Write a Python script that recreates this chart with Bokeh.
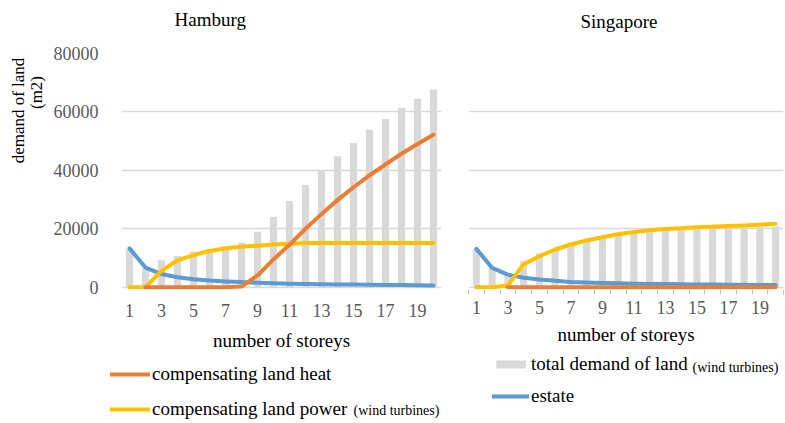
import math
from bokeh.plotting import figure
from bokeh.layouts import row, column
from bokeh.models import (Range1d, FixedTicker, Legend, LegendItem,
                          Label, ColumnDataSource)
from bokeh.embed import file_html
from bokeh.resources import INLINE

NaN = float("nan")

# ---------------- data ----------------
storeys = [1, 2, 3, 4, 5, 6, 7, 8, 9, 10, 11, 12, 13, 14, 15, 16, 17, 18, 19, 20]
x_tick_labels = [1, 3, 5, 7, 9, 11, 13, 15, 17, 19]
y_ticks = [0, 20000, 40000, 60000, 80000]

# Hamburg
hh_total = [13000, 6500, 9200, 10700, 12100, 13000, 13900, 15200, 19000, 24100,
            29500, 35000, 39900, 44800, 49400, 53900, 57600, 61300, 64500, 67700]
hh_heat = [NaN, 0, 0, 0, 0, 0, 0, 200, 4000, 9500,
           14500, 20000, 25000, 29800, 34200, 38300, 42000, 45700, 49000, 52200]
hh_power = [0, 0, 5600, 9200, 11000, 12400, 13300, 13800, 14200, 14600,
            14900, 15100, 15100, 15100, 15100, 15100, 15100, 15100, 15100, 15100]
hh_estate = [13300, 6700, 4500, 3400, 2700, 2250, 1950, 1750, 1500, 1300,
             1200, 1100, 1000, 950, 880, 820, 770, 720, 680, 600]

# Singapore
sg_total = [13000, 6600, 4700, 8900, 11500, 13100, 14900, 16100, 17300, 18100,
            18900, 19300, 19600, 19800, 19900, 20100, 20300, 20500, 20600, 20800]
sg_heat = [NaN, NaN, 0, 0, 0, 0, 0, 0, 0, 0,
           0, 0, 0, 0, 0, 0, 0, 0, 0, 0]
sg_power = [0, 0, 600, 7800, 10600, 12900, 14600, 16000, 17100, 18100,
            18900, 19500, 19900, 20200, 20500, 20700, 20900, 21100, 21400, 21700]
sg_estate = [13100, 6600, 4300, 3200, 2600, 2200, 1800, 1600, 1450, 1300,
             1200, 1100, 1050, 1000, 950, 900, 850, 800, 750, 700]

# ---------------- style ----------------
FONT = "Liberation Serif"
C_BAR = "#D9D9D9"
C_HEAT = "#ED7D31"
C_POWER = "#FFC000"
C_ESTATE = "#5B9BD5"
C_GRID = "#D9D9D9"
C_TICK = "#595959"
TOP_H = 38
MAIN_H = 315
LEG_H = 70
YLAB_W = 50
LINE = dict(line_width=4, line_cap="round", line_join="round")


def blank_fig(width, height):
    f = figure(width=width, height=height, output_backend="svg",
               toolbar_location=None, x_range=Range1d(-2, -1),
               y_range=Range1d(-2, -1), min_border=0)
    f.axis.visible = False
    f.grid.visible = False
    f.outline_line_color = None
    return f


def text_label(fig, txt, sx, sy, size, baseline="middle", align="left",
               angle=0):
    fig.add_layout(Label(x=sx, y=sy, x_units="screen", y_units="screen",
                         text=txt, text_font=FONT, text_font_size=size,
                         text_color="#000000", text_align=align,
                         text_baseline=baseline, angle=angle))


def make_panel(width, border_left, border_right):
    p = figure(width=width, height=MAIN_H, output_backend="svg",
               toolbar_location=None,
               x_range=Range1d(0.5, 20.5), y_range=Range1d(-800, 80000),
               min_border_left=border_left, min_border_right=border_right,
               min_border_top=53 - TOP_H,
               min_border_bottom=MAIN_H - (53 - TOP_H) - 238)
    p.outline_line_color = None
    p.xgrid.grid_line_color = None
    p.ygrid.grid_line_color = C_GRID
    p.ygrid.grid_line_width = 1.5
    p.yaxis.ticker = FixedTicker(ticks=y_ticks)

    p.xaxis.ticker = FixedTicker(ticks=x_tick_labels,
                                 minor_ticks=[i + 0.5 for i in range(21)])
    p.xaxis.axis_line_color = None
    p.xaxis.major_tick_line_color = None
    p.xaxis.minor_tick_line_color = None
    p.xaxis.major_label_text_font = FONT
    p.xaxis.major_label_text_font_size = "18px"
    p.xaxis.major_label_text_color = C_TICK
    p.xaxis.axis_label = "number of storeys"
    p.xaxis.axis_label_text_font = FONT
    p.xaxis.axis_label_text_font_size = "19px"
    p.xaxis.axis_label_text_font_style = "normal"
    p.xaxis.axis_label_text_color = "#000000"
    return p


def draw_series(p, src):
    rb = p.vbar(x="x", top="total", width=0.45, source=src,
                fill_color=C_BAR, line_color=None)
    re = p.line("x", "estate", source=src, line_color=C_ESTATE, **LINE)
    rp = p.line("x", "power", source=src, line_color=C_POWER, **LINE)
    rh = p.line("x", "heat", source=src, line_color=C_HEAT, **LINE)
    return rb, re, rp, rh


def make_legend(items, loc, spacing, glyph_width, glyph_height):
    leg = Legend(items=items, location=loc)
    leg.border_line_color = None
    leg.background_fill_alpha = 0
    leg.padding = 0
    leg.margin = 0
    leg.spacing = spacing
    leg.glyph_width = glyph_width
    leg.glyph_height = glyph_height
    leg.label_height = 20
    leg.label_standoff = 2
    leg.label_text_font = FONT
    leg.label_text_font_size = "19px"
    leg.label_text_color = "#000000"
    return leg


src_hh = ColumnDataSource(dict(x=storeys, total=hh_total, heat=hh_heat,
                               power=hh_power, estate=hh_estate))
src_sg = ColumnDataSource(dict(x=storeys, total=sg_total, heat=sg_heat,
                               power=sg_power, estate=sg_estate))

# ---- titles strip ----
top = blank_fig(785, TOP_H)
text_label(top, "Hamburg", 174, TOP_H - 19, "19px", "alphabetic")
text_label(top, "Singapore", 580, TOP_H - 21, "19px", "alphabetic")

# ---- y axis title strip (its frame lines up with the plot frames) ----
ylab = blank_fig(YLAB_W, MAIN_H)
FRAME_BOTTOM = 289
text_label(ylab, "demand of land", 18, FRAME_BOTTOM - 110, "17px",
           "middle", "center", math.pi / 2)
text_label(ylab, "(m2)", 36, FRAME_BOTTOM - 92, "17px",
           "middle", "center", math.pi / 2)

# ---- Hamburg ----
p1 = make_panel(455 - YLAB_W, 118 - YLAB_W, 14)
draw_series(p1, src_hh)
p1.yaxis.axis_line_color = None
p1.yaxis.major_tick_line_color = None
p1.yaxis.minor_tick_line_color = None
p1.yaxis.major_label_text_font = FONT
p1.yaxis.major_label_text_font_size = "18px"
p1.yaxis.major_label_text_color = C_TICK
p1.yaxis.major_label_standoff = 17
p1.xaxis.major_label_standoff = 8
p1.xaxis.axis_label_standoff = 10

# ---- Singapore ----
p2 = make_panel(330, 13, 2)
draw_series(p2, src_sg)
p2.yaxis.visible = False
p2.xaxis.minor_tick_line_color = "#BFBFBF"
p2.xaxis.minor_tick_out = 5
p2.xaxis.minor_tick_in = 0
p2.xaxis.major_label_standoff = 5
p2.xaxis.axis_label_standoff = 7

# ---- legends strip (renderers share the series data; kept off-range) ----
leg = blank_fig(785, LEG_H)
lb1, le1, lp1, lh1 = draw_series(leg, src_hh)
lb2, le2, lp2, lh2 = draw_series(leg, src_sg)
leg.add_layout(make_legend(
    [LegendItem(label="compensating land heat", renderers=[lh1]),
     LegendItem(label="compensating land power", renderers=[lp1])],
    (110, 3), 13, 40, 20))
leg.add_layout(make_legend(
    [LegendItem(label="total demand of land", renderers=[lb2]),
     LegendItem(label="estate", renderers=[le2])],
    (492, 16), 10, 37, 10))
text_label(leg, "(wind turbines)", 353, 13, "14px")
text_label(leg, "(wind turbines)", 692, 56, "14px")

layout = column(top, row(ylab, p1, p2), leg)
open("out.html", "w").write(file_html(layout, INLINE))
